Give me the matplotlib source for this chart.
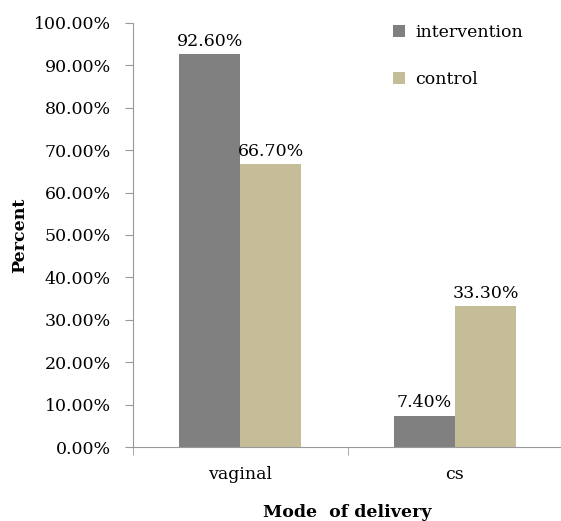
import matplotlib
matplotlib.use("Agg")
import matplotlib.pyplot as plt
import numpy as np

categories = ["vaginal", "cs"]
intervention = [92.6, 7.4]
control = [66.7, 33.3]
series_names = ["intervention", "control"]
colors = ["#808080", "#C4BD97"]

plt.rcParams["font.family"] = ["DejaVu Serif"]

fig = plt.figure(figsize=(5.61, 5.21), dpi=100)
ax = fig.add_axes([0.237, 0.142, 0.765, 0.814])

x = np.arange(len(categories))
w = 0.285
b1 = ax.bar(x - w / 2, intervention, w, color=colors[0], label=series_names[0])
b2 = ax.bar(x + w / 2, control, w, color=colors[1], label=series_names[1])

for bars, vals in [(b1, intervention), (b2, control)]:
    for bar, v in zip(bars, vals):
        ax.text(bar.get_x() + bar.get_width() / 2, v + 1, "%.2f%%" % v,
                ha="center", va="bottom", fontsize=12.5)

ax.set_xlim(-0.5, 1.5)
ax.set_ylim(0, 100)
ax.set_yticks(np.arange(0, 101, 10))
ax.set_yticklabels(["%.2f%%" % t for t in np.arange(0, 101, 10)], fontsize=12.5)
ax.set_xticks(x)
ax.set_xticklabels(categories, fontsize=12.5)
ax.tick_params(axis="x", length=0, pad=14)
ax.set_xticks([-0.5, 0.5, 1.5], minor=True)
ax.tick_params(axis="x", which="minor", length=6, color="#999999")
ax.tick_params(axis="y", length=6, color="#999999", pad=10)

for s in ["top", "right"]:
    ax.spines[s].set_visible(False)
for s in ["left", "bottom"]:
    ax.spines[s].set_color("#999999")

ax.set_ylabel("Percent", fontsize=12.5, fontweight="bold", labelpad=4)
ax.set_xlabel("Mode  of delivery", fontsize=12.5, fontweight="bold", labelpad=15)

ax.legend(loc="upper right", bbox_to_anchor=(0.945, 1.035), frameon=False, fontsize=12.5,
          handlelength=0.7, handleheight=0.7, handletextpad=0.6, labelspacing=1.75)

fig.savefig("out.png", dpi=100)
